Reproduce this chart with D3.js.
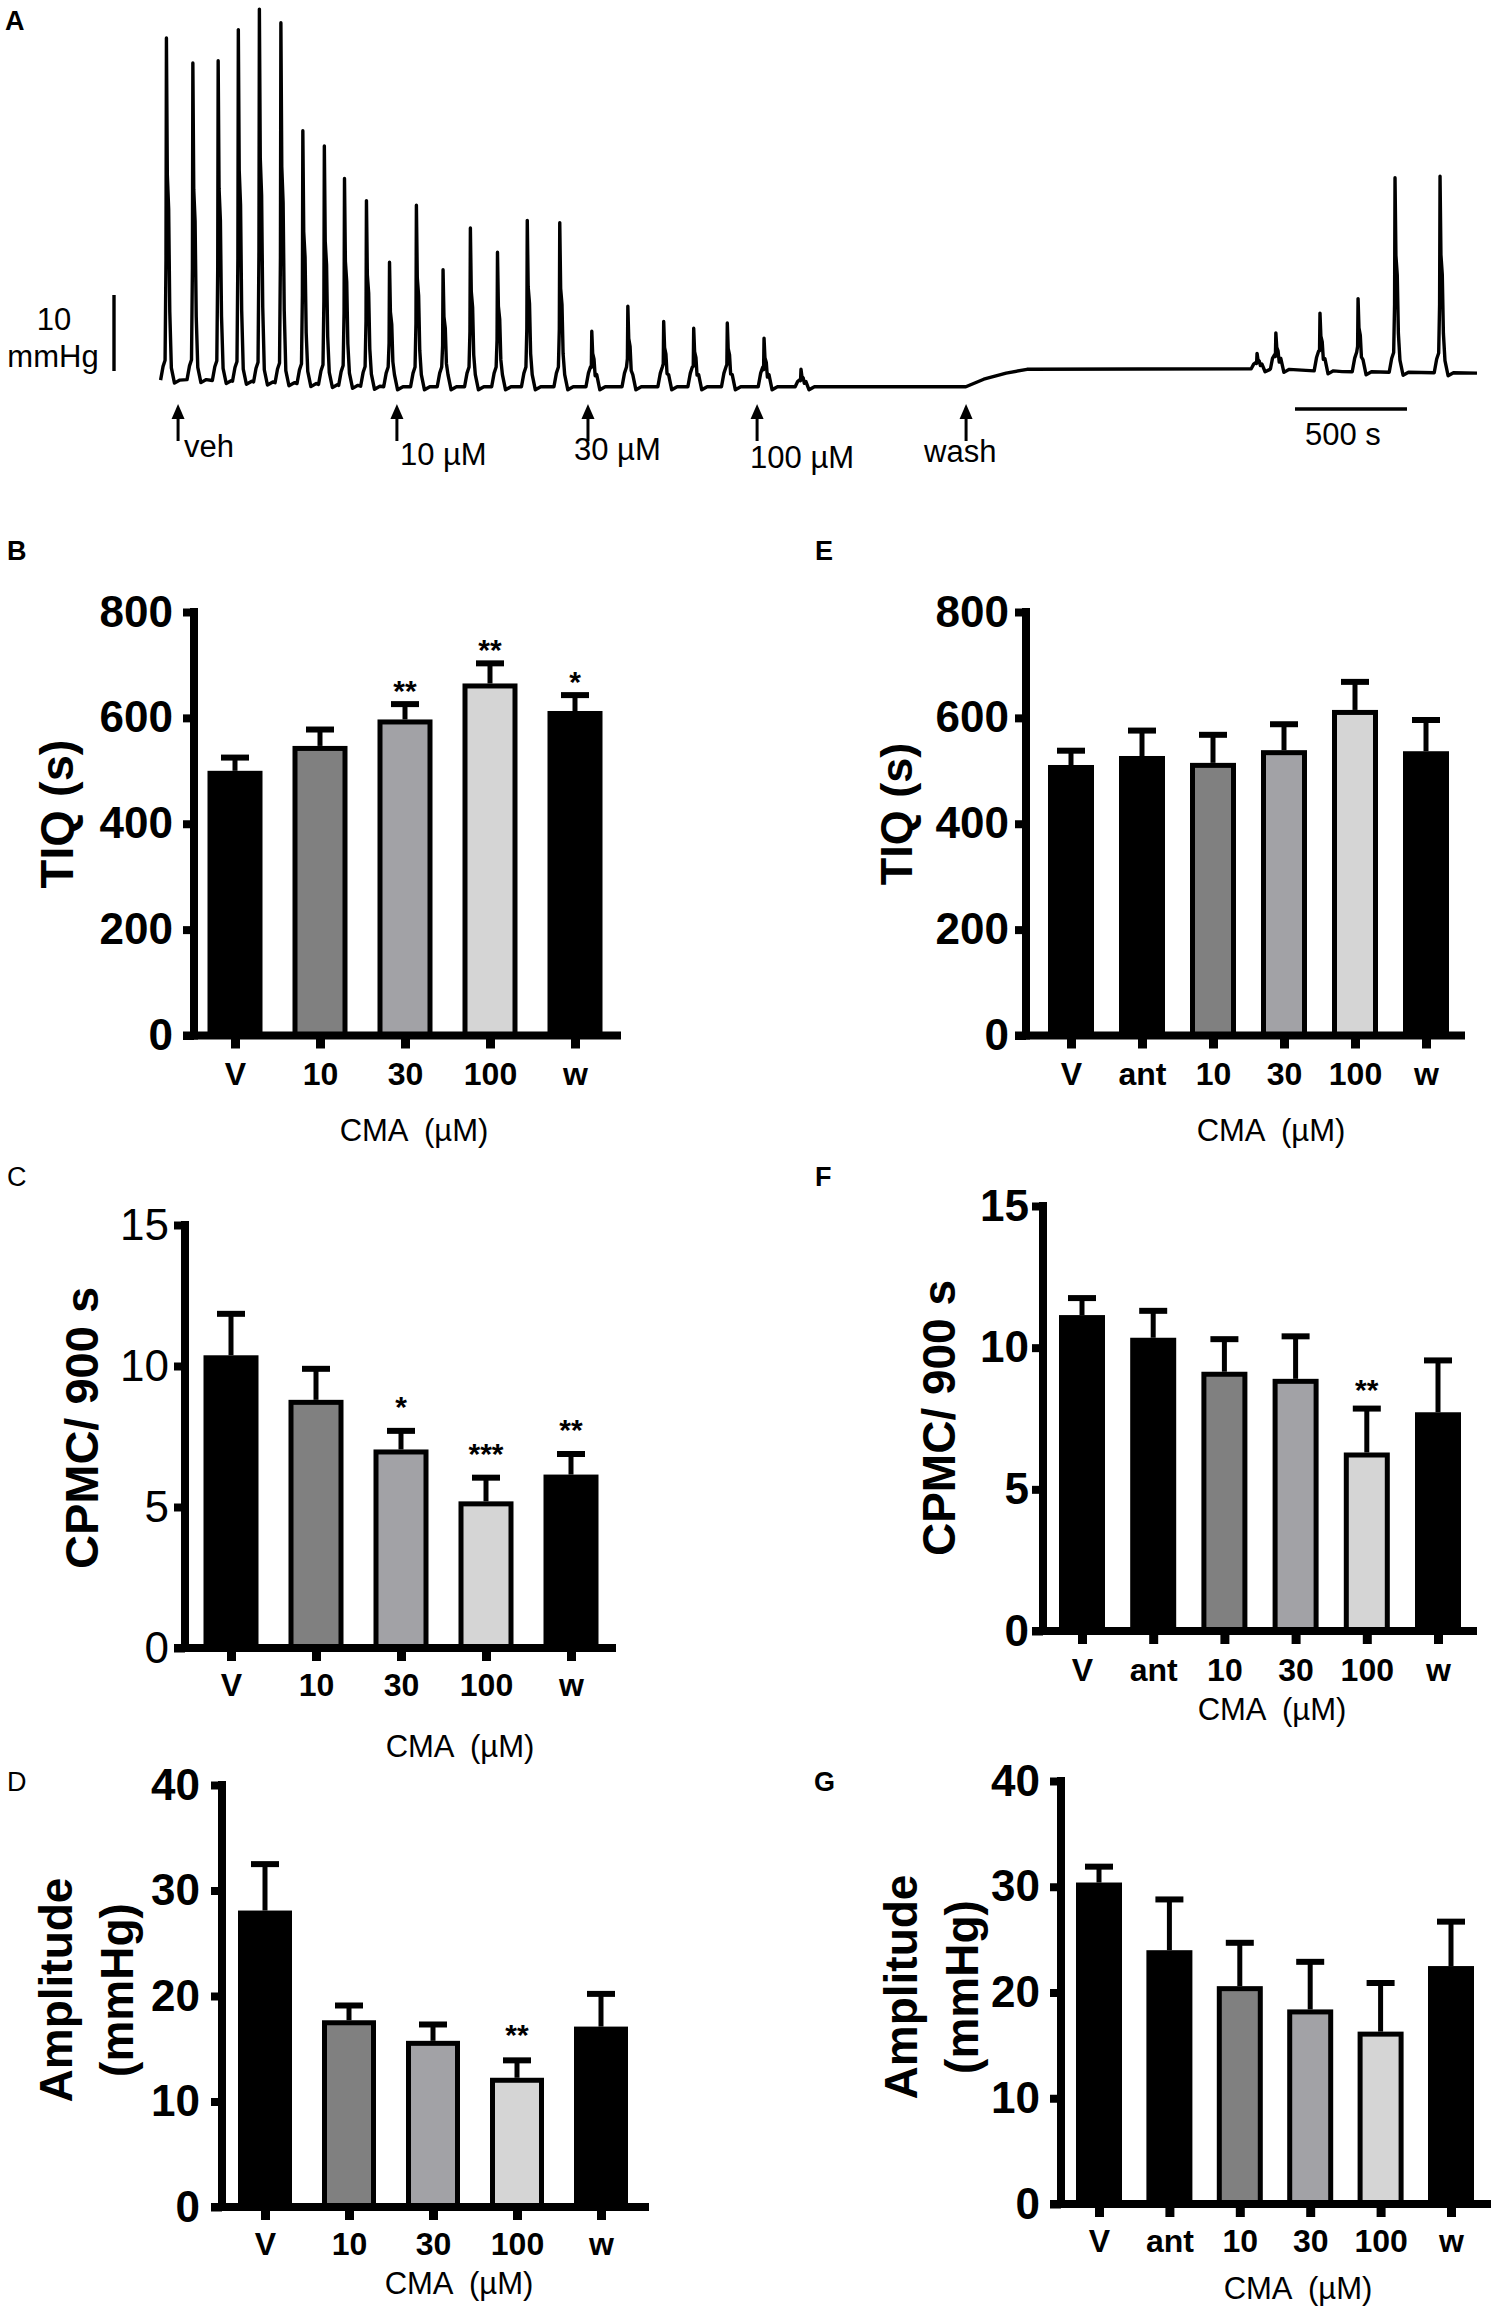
<!DOCTYPE html>
<html><head><meta charset="utf-8">
<script src="https://cdn.jsdelivr.net/npm/d3@7"></script>
<style>html,body{margin:0;padding:0;background:#fff;} svg{display:block;}</style>
</head><body>
<script>
// ================= DATA =================
// Panel A: pressure trace (time in s, pressure in mmHg relative to initial baseline)
const traceBaseTimes  = [0, 120, 600, 1000, 2600, 3620, 3700, 3800, 3893, 4900, 5300, 5902];
const traceBaseLevels = [0.3, 0.5, 0, -0.5, -0.5, -0.5, 0.5, 1.3, 1.8, 1.9, 1.5, 1.3];
const spikeTimes = [51, 169, 282, 372, 466, 562, 660, 756, 846, 944, 1047, 1167, 1286, 1408, 1529, 1662, 1807,
                    1950, 2111, 2271, 2405, 2555, 2719, 2884, 4920, 5004, 5201, 5371, 5536, 5737];
const spikePeaks = [45.4, 42.1, 42.4, 46.5, 49.2, 47.4, 33.2, 31.2, 26.9, 24.0, 15.9, 23.4, 14.9, 20.4, 17.2, 21.4, 21.1,
                    6.8, 10.1, 8.1, 7.2, 7.9, 5.9, 1.8, 3.9, 6.6, 9.2, 11.1, 27.0, 27.2];
const arrowTimes  = [103, 1080, 1933, 2688, 3621];
const arrowLabels = ["veh", "10 µM", "30 µM", "100 µM", "wash"];
const scaleBarMmHg = 10;
const scaleBarSec = 500;

// Bar panels
const catsCMA = ["V", "10", "30", "100", "w"];
const catsAnt = ["V", "ant", "10", "30", "100", "w"];

const tiqB     = [500, 547, 597, 665, 613];
const tiqBErr  = [25, 31, 29, 38, 30];
const tiqBSig  = ["", "", "**", "**", "*"];

const tiqE     = [511, 528, 515, 539, 615, 537];
const tiqEErr  = [27, 48, 53, 49, 53, 59];
const tiqESig  = ["", "", "", "", "", ""];

const cpmcC    = [10.38, 8.8, 7.04, 5.2, 6.15];
const cpmcCErr = [1.47, 1.1, 0.66, 0.84, 0.73];
const cpmcCSig = ["", "", "*", "***", "**"];

const cpmcF    = [11.15, 10.35, 9.15, 8.9, 6.3, 7.72];
const cpmcFErr = [0.6, 0.95, 1.15, 1.5, 1.55, 1.83];
const cpmcFSig = ["", "", "", "", "**", ""];

const ampD     = [28.1, 17.7, 15.75, 12.25, 17.1];
const ampDErr  = [4.4, 1.4, 1.55, 1.65, 3.1];
const ampDSig  = ["", "", "", "**", ""];

const ampG     = [30.4, 24.0, 20.6, 18.4, 16.3, 22.5];
const ampGErr  = [1.5, 4.8, 4.1, 4.5, 4.6, 4.2];
const ampGSig  = ["", "", "", "", "", ""];

const ticksTIQ  = [0, 200, 400, 600, 800];
const ticksCPMC = [0, 5, 10, 15];
const ticksAmp  = [0, 10, 20, 30, 40];

// ================= STYLE / LAYOUT =================
const FONT = "'Liberation Sans', Arial, Helvetica, sans-serif";
const fillByCat = {V: "#000", ant: "#000", "10": "#808080", "30": "#a2a2a6", "100": "#d5d5d5", w: "#000"};

const W = 1495, H = 2308;
const svg = d3.select("body").append("svg")
  .attr("width", W).attr("height", H).attr("viewBox", `0 0 ${W} ${H}`)
  .attr("font-family", FONT);

function letter(t, x, y, weight) {
  svg.append("text").attr("x", x).attr("y", y).attr("font-size", 27)
    .attr("font-weight", weight).text(t);
}

// ================= PANEL A =================
(function () {
  const g = svg.append("g");
  const xT = d3.scaleLinear().domain([0, 5902]).range([155, 1477]);
  const yP = d3.scaleLinear().domain([0, 10]).range([383, 307]);
  const baseAt = d3.scaleLinear().domain(traceBaseTimes).range(traceBaseLevels).clamp(true);

  function spikePts(t0, peak) {
    const b = baseAt(t0), h = peak - b;
    return [[t0 - 26, b], [t0 - 15, b + Math.min(1.8, h * 0.3)], [t0 - 6, b + Math.min(2.6, h * 0.4)],
            [t0 - 2, b + h * 0.35], [t0, peak], [t0 + 4, b + h * 0.6], [t0 + 10, b + h * 0.5],
            [t0 + 15, b + h * 0.2], [t0 + 22, b + Math.min(1.6, h * 0.3)], [t0 + 36, b - 0.4], [t0 + 60, b]];
  }
  let pts = traceBaseTimes.map((t, i) => [t, traceBaseLevels[i]])
    .filter(p => spikeTimes.every(s => Math.abs(s - p[0]) > 65));
  spikeTimes.forEach((t, i) => { pts = pts.concat(spikePts(t, spikePeaks[i])); });
  pts.sort((a, b) => a[0] - b[0]);

  g.append("path").attr("d", d3.line().x(d => xT(d[0])).y(d => yP(d[1]))(pts))
    .attr("fill", "none").attr("stroke", "#000").attr("stroke-width", 3.4)
    .attr("stroke-linejoin", "round");

  // vertical scale bar (10 mmHg)
  const barLen = yP(0) - yP(scaleBarMmHg);
  g.append("line").attr("x1", 114).attr("x2", 114).attr("y1", 371).attr("y2", 371 - barLen)
    .attr("stroke", "#000").attr("stroke-width", 3.4);
  g.append("text").attr("x", 54).attr("y", 330).attr("text-anchor", "middle").attr("font-size", 31).text("10");
  g.append("text").attr("x", 53).attr("y", 367).attr("text-anchor", "middle").attr("font-size", 31).text("mmHg");

  // horizontal scale bar (500 s)
  const secLen = xT(scaleBarSec) - xT(0);
  g.append("line").attr("x1", 1295).attr("x2", 1295 + secLen).attr("y1", 409).attr("y2", 409)
    .attr("stroke", "#000").attr("stroke-width", 3.4);
  g.append("text").attr("x", 1305).attr("y", 445).attr("font-size", 31).text(scaleBarSec + " s");

  // arrows
  const lblDx = [6, 3, -14, -7, -42];
  const lblY = [457, 465, 460, 468, 462];
  arrowTimes.forEach((t, i) => {
    const x = xT(t);
    g.append("line").attr("x1", x).attr("x2", x).attr("y1", 416).attr("y2", 441)
      .attr("stroke", "#000").attr("stroke-width", 3);
    g.append("path").attr("d", `M${x},404 L${x - 6.5},419 L${x + 6.5},419 Z`).attr("fill", "#000");
    g.append("text").attr("x", x + lblDx[i]).attr("y", lblY[i]).attr("font-size", 31).text(arrowLabels[i]);
  });
  letter("A", 5, 30, "bold");
})();

// ================= BAR PANELS =================
function barPanel(L, cats, means, errs, sig, yMax, ticks) {
  const g = svg.append("g");
  const y = d3.scaleLinear().domain([0, yMax]).range([L.y0, L.yTop]);
  const x = d3.scalePoint().domain(cats).range([L.c0, L.c1]);
  const rows = cats.map((c, i) => ({c, m: means[i], e: errs[i], s: sig[i]}));
  const bw = L.bw;
  const isBlack = d => fillByCat[d.c] === "#000";

  // bars
  g.selectAll("rect.bar").data(rows).join("rect").attr("class", "bar")
    .attr("x", d => isBlack(d) ? x(d.c) - bw / 2 : x(d.c) - bw / 2 + 2.5)
    .attr("width", d => isBlack(d) ? bw : bw - 5)
    .attr("y", d => isBlack(d) ? y(d.m) : y(d.m) + 2.5)
    .attr("height", d => isBlack(d) ? L.y0 - y(d.m) : L.y0 - y(d.m) - 2.5)
    .attr("fill", d => fillByCat[d.c])
    .attr("stroke", d => isBlack(d) ? "none" : "#000")
    .attr("stroke-width", 5);

  // error bars (upper only)
  g.selectAll("line.err").data(rows).join("line").attr("class", "err")
    .attr("x1", d => x(d.c)).attr("x2", d => x(d.c))
    .attr("y1", d => y(d.m)).attr("y2", d => y(d.m + d.e))
    .attr("stroke", "#000").attr("stroke-width", 5);
  g.selectAll("line.cap").data(rows).join("line").attr("class", "cap")
    .attr("x1", d => x(d.c) - 14).attr("x2", d => x(d.c) + 14)
    .attr("y1", d => y(d.m + d.e)).attr("y2", d => y(d.m + d.e))
    .attr("stroke", "#000").attr("stroke-width", 6);

  // significance
  g.selectAll("text.sig").data(rows.filter(d => d.s)).join("text").attr("class", "sig")
    .attr("x", d => x(d.c)).attr("y", d => y(d.m + d.e) - L.sigGap + 13)
    .attr("text-anchor", "middle").attr("font-size", 30).attr("font-weight", "bold").text(d => d.s);

  // y axis
  const ya = g.append("g").attr("transform", `translate(${L.axisX},0)`)
    .call(d3.axisLeft(y).tickValues(ticks).tickSize(11).tickSizeOuter(0)
      .tickPadding(L.labelGap - 11).tickFormat(d3.format("d")));
  ya.select(".domain").remove();
  ya.selectAll(".tick line").attr("stroke", "#000").attr("stroke-width", 8);
  ya.selectAll(".tick text").attr("fill", "#000").attr("font-family", FONT)
    .attr("font-size", L.tickFont).attr("font-weight", L.tickWeight);
  g.append("line").attr("x1", L.axisX).attr("x2", L.axisX).attr("y1", L.yTop - 4).attr("y2", L.y0 + 4)
    .attr("stroke", "#000").attr("stroke-width", 8);

  // x axis
  const xa = g.append("g").attr("transform", `translate(0,${L.y0})`)
    .call(d3.axisBottom(x).tickSize(13).tickSizeOuter(0));
  xa.select(".domain").remove();
  xa.selectAll(".tick line").attr("stroke", "#000").attr("stroke-width", 9);
  xa.selectAll(".tick text").attr("fill", "#000").attr("font-family", FONT)
    .attr("font-size", 32).attr("font-weight", "bold")
    .attr("y", L.catBase - L.y0).attr("dy", 0);
  g.append("line").attr("x1", L.axisX - 11).attr("x2", L.axisEnd).attr("y1", L.y0).attr("y2", L.y0)
    .attr("stroke", "#000").attr("stroke-width", 8);

  // x title
  g.append("text").attr("x", L.cmaX).attr("y", L.cmaBase).attr("text-anchor", "middle")
    .attr("font-size", 31).style("white-space", "pre").text("CMA  (µM)");

  // y title (rotated)
  L.ylab.forEach(lb => {
    g.append("text").attr("transform", `translate(${lb.x + 0.36 * L.ylabFont},${L.ylabY}) rotate(-90)`)
      .attr("text-anchor", "middle").attr("font-size", L.ylabFont).attr("font-weight", "bold").text(lb.text);
  });
  letter(L.letter.t, L.letter.x, L.letter.y, L.letter.w);
}

barPanel({axisX: 194, axisEnd: 621, yTop: 612, y0: 1035.5, c0: 235, c1: 575, bw: 55, labelGap: 21,
  tickFont: 44, tickWeight: "bold", catBase: 1085, cmaX: 414, cmaBase: 1141,
  ylab: [{text: "TIQ (s)", x: 56}], ylabY: 814, ylabFont: 47, sigGap: 16,
  letter: {t: "B", x: 7, y: 560, w: "bold"}}, catsCMA, tiqB, tiqBErr, tiqBSig, 800, ticksTIQ);

barPanel({axisX: 1026, axisEnd: 1465, yTop: 612, y0: 1035.5, c0: 1071, c1: 1426, bw: 46, labelGap: 17,
  tickFont: 44, tickWeight: "bold", catBase: 1085, cmaX: 1271, cmaBase: 1141,
  ylab: [{text: "TIQ (s)", x: 896}], ylabY: 814, ylabFont: 45, sigGap: 16,
  letter: {t: "E", x: 815, y: 560, w: "bold"}}, catsAnt, tiqE, tiqEErr, tiqESig, 800, ticksTIQ);

barPanel({axisX: 185, axisEnd: 616, yTop: 1225, y0: 1648, c0: 231, c1: 571, bw: 55, labelGap: 16,
  tickFont: 44, tickWeight: "normal", catBase: 1696, cmaX: 460, cmaBase: 1757,
  ylab: [{text: "CPMC/ 900 s", x: 81}], ylabY: 1428, ylabFont: 47, sigGap: 27,
  letter: {t: "C", x: 7, y: 1186, w: "normal"}}, catsCMA, cpmcC, cpmcCErr, cpmcCSig, 15, ticksCPMC);

barPanel({axisX: 1043, axisEnd: 1477, yTop: 1206, y0: 1631, c0: 1082, c1: 1438, bw: 46, labelGap: 14,
  tickFont: 44, tickWeight: "bold", catBase: 1681, cmaX: 1272, cmaBase: 1720,
  ylab: [{text: "CPMC/ 900 s", x: 938}], ylabY: 1418, ylabFont: 46, sigGap: 22,
  letter: {t: "F", x: 815, y: 1186, w: "bold"}}, catsAnt, cpmcF, cpmcFErr, cpmcFSig, 15, ticksCPMC);

barPanel({axisX: 222, axisEnd: 649, yTop: 1785, y0: 2207, c0: 265, c1: 601, bw: 54, labelGap: 22,
  tickFont: 44, tickWeight: "bold", catBase: 2255, cmaX: 459, cmaBase: 2294,
  ylab: [{text: "Amplitude", x: 55}, {text: "(mmHg)", x: 116}], ylabY: 1990, ylabFont: 46, sigGap: 28,
  letter: {t: "D", x: 7, y: 1791, w: "normal"}}, catsCMA, ampD, ampDErr, ampDSig, 40, ticksAmp);

barPanel({axisX: 1061, axisEnd: 1491, yTop: 1781, y0: 2204, c0: 1099, c1: 1451, bw: 46, labelGap: 21,
  tickFont: 44, tickWeight: "bold", catBase: 2252, cmaX: 1298, cmaBase: 2299,
  ylab: [{text: "Amplitude", x: 900}, {text: "(mmHg)", x: 961}], ylabY: 1987, ylabFont: 46, sigGap: 22,
  letter: {t: "G", x: 814, y: 1791, w: "bold"}}, catsAnt, ampG, ampGErr, ampGSig, 40, ticksAmp);
</script>
</body></html>
